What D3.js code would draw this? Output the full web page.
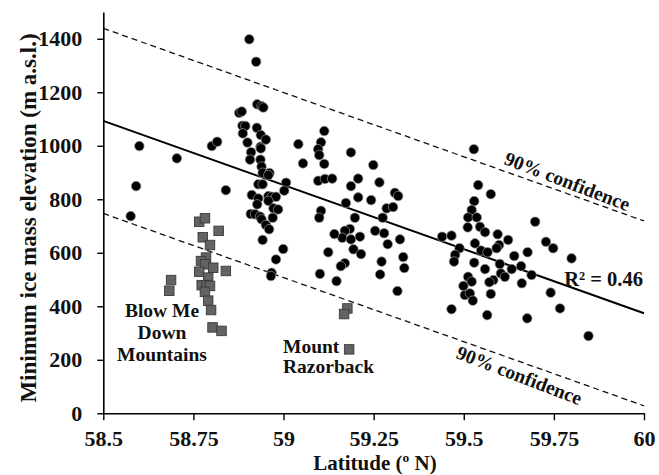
<!DOCTYPE html>
<html><head><meta charset="utf-8">
<script src="https://cdn.jsdelivr.net/npm/d3@7"></script>
<style>
body{margin:0;background:#fff}
svg{display:block}
text{font-family:"Liberation Serif","Times New Roman",serif;font-weight:bold;fill:#111}
</style>
</head><body>
<svg id="chart" width="659" height="475"></svg>
<script>
// ---- data ----
const xTicks = [58.5, 58.75, 59, 59.25, 59.5, 59.75, 60];
const yTicks = [0, 200, 400, 600, 800, 1000, 1200, 1400];
const xDomain = [58.5, 60];
const yDomain = [0, 1500];

// ice masses (circles): [latitude, minimum elevation]
const iceMasses = [
  [58.600,999],[58.704,953],[58.591,849],[58.576,737],[58.801,999],[58.816,1015],[58.840,834],
  [58.905,1398],[58.924,1314],[58.927,1155],[58.939,1148],[58.944,1143],[58.877,1123],[58.884,1128],
  [58.886,1075],[58.894,1074],[58.926,1067],[58.887,1046],[58.937,1040],[58.951,1023],[58.900,1012],
  [58.936,996],[58.937,990],[58.910,976],[58.907,948],[58.936,948],[58.939,922],[58.942,899],
  [58.961,898],[58.958,890],[58.930,856],[58.942,856],[59.007,862],[59.002,832],[58.912,816],
  [58.930,803],[58.958,812],[58.967,809],[58.979,809],[58.958,794],[58.927,781],[58.972,766],
  [58.985,762],[58.909,745],[58.921,744],[58.935,735],[58.939,725],[58.970,731],[58.951,704],
  [58.960,688],[58.942,648],[58.999,614],[58.979,575],[58.967,525],[58.965,513],[59.041,1006],[59.054,934],
  [59.113,1055],[59.104,1013],[59.096,987],[59.099,965],[59.113,932],[59.187,975],[59.249,928],
  [59.096,869],[59.115,876],[59.135,877],[59.207,877],[59.187,849],[59.266,863],[59.309,824],
  [59.318,812],[59.207,807],[59.243,797],[59.173,786],[59.286,766],[59.304,771],[59.104,757],
  [59.099,731],[59.198,731],[59.275,731],[59.184,689],[59.170,682],[59.163,656],[59.187,650],
  [59.212,660],[59.141,670],[59.254,682],[59.279,673],[59.323,650],[59.289,632],[59.194,613],
  [59.215,595],[59.124,602],[59.332,584],[59.335,543],[59.272,567],[59.170,561],[59.159,550],
  [59.268,519],[59.101,521],[59.147,494],[59.316,457],
  [59.528,987],[59.540,853],[59.575,819],[59.529,793],[59.522,760],[59.512,732],[59.536,732],
  [59.511,695],[59.545,697],[59.698,716],[59.440,660],[59.466,664],[59.559,677],[59.594,669],
  [59.623,648],[59.728,641],[59.748,617],[59.799,579],[59.531,635],[59.598,629],[59.591,617],
  [59.488,617],[59.476,592],[59.473,567],[59.548,608],[59.566,602],[59.677,602],[59.640,588],
  [59.529,563],[59.600,558],[59.559,539],[59.659,550],[59.633,539],[59.688,517],[59.603,523],
  [59.614,510],[59.512,510],[59.522,492],[59.499,476],[59.582,498],[59.571,490],[59.661,486],
  [59.503,442],[59.517,448],[59.525,421],[59.575,446],[59.466,389],[59.565,367],[59.676,355],
  [59.767,392],[59.741,451],[59.846,289]
];

// Blow Me Down Mountains and Mount Razorback (squares)
const blowMeDown = [
  [58.766,716],[58.782,729],[58.820,682],[58.776,658],[58.796,629],[58.785,582],[58.771,569],
  [58.782,557],[58.805,544],[58.840,532],[58.766,529],[58.791,507],[58.688,498],[58.683,458],
  [58.773,479],[58.787,479],[58.796,476],[58.782,454],[58.791,421],[58.799,386],[58.803,321],[58.828,308]
];
const mountRazorback = [[59.177,392],[59.168,371],[59.182,239]];

// regression line and 90% confidence bounds: [lat, elevation] end points
const regressionLine = [[58.5,1093],[60,374]];
const upperConfidence = [[58.5,1439],[60,719]];
const lowerConfidence = [[58.5,747],[60,28]];

// ---- chart ----
const svg = d3.select("#chart");
const x = d3.scaleLinear().domain(xDomain).range([103.3, 644]);
const y = d3.scaleLinear().domain(yDomain).range([413.3, 12]);
const font = '"Liberation Serif","Times New Roman",serif';

const line = d3.line().x(d => x(d[0])).y(d => y(d[1]));
svg.append("path").datum(upperConfidence).attr("d", line)
  .attr("fill","none").attr("stroke","#111").attr("stroke-width",1.3).attr("stroke-dasharray","6,4");
svg.append("path").datum(lowerConfidence).attr("d", line)
  .attr("fill","none").attr("stroke","#111").attr("stroke-width",1.3).attr("stroke-dasharray","6,4");
svg.append("path").datum(regressionLine).attr("d", line)
  .attr("fill","none").attr("stroke","#000").attr("stroke-width",2);

// points
svg.append("g").selectAll("circle").data(iceMasses).join("circle")
  .attr("cx", d => x(d[0])).attr("cy", d => y(d[1])).attr("r", 4.8)
  .attr("fill","#000").attr("stroke","#9a9a9a").attr("stroke-width",0.7);

const sq = 9.5;
svg.append("g").selectAll("rect").data(blowMeDown.concat(mountRazorback)).join("rect")
  .attr("x", d => x(d[0]) - sq/2).attr("y", d => y(d[1]) - sq/2)
  .attr("width", sq).attr("height", sq)
  .attr("fill","#636363").attr("stroke","#3a3a3a").attr("stroke-width",0.9);

// axes
const yAxis = svg.append("g").attr("transform", `translate(${x(58.5)},0)`)
  .call(d3.axisLeft(y).tickValues(yTicks).tickSize(6).tickSizeOuter(0).tickPadding(15).tickFormat(d3.format("d")));
const xAxis = svg.append("g").attr("transform", `translate(0,${y(0)})`)
  .call(d3.axisBottom(x).tickValues(xTicks).tickSize(7).tickSizeOuter(0).tickPadding(10).tickFormat(d => String(d)));
[yAxis, xAxis].forEach(g => {
  g.attr("font-family", font).attr("font-size", 22).attr("font-weight","bold");
  g.select(".domain").attr("stroke","#000").attr("stroke-width",1.6);
  g.selectAll(".tick line").attr("stroke","#000").attr("stroke-width",1.4);
  g.selectAll(".tick text").attr("fill","#111");
});

// axis titles
const xt = svg.append("text").attr("x", 375).attr("y", 470).attr("text-anchor","middle").attr("font-size",21);
xt.append("tspan").text("Latitude (");
xt.append("tspan").attr("font-size",13.5).attr("dy",-8).text("o");
xt.append("tspan").attr("dy",8).text(" N)");

svg.append("text").attr("transform","translate(36,218) rotate(-90)")
  .attr("text-anchor","middle").attr("font-size",23)
  .text("Minimum ice mass elevation (m a.s.l.)");

// annotations
svg.append("text").attr("x", 643).attr("y", 286).attr("text-anchor","end").attr("font-size",20.5).text("R² = 0.46");

svg.append("text").attr("transform","translate(567,182) rotate(21)")
  .attr("text-anchor","middle").attr("dy","0.3em").attr("font-size",19.5).text("90% confidence");
svg.append("text").attr("transform","translate(519,376) rotate(21)")
  .attr("text-anchor","middle").attr("dy","0.3em").attr("font-size",19.5).text("90% confidence");

const bmd = svg.append("text").attr("text-anchor","middle").attr("font-size",19.5);
[["Blow Me",317],["Down",339],["Mountains",361]].forEach(([t,yy]) =>
  bmd.append("tspan").attr("x",162).attr("y",yy).text(t));
const mr = svg.append("text").attr("font-size",19.5);
[["Mount",353],["Razorback",373]].forEach(([t,yy]) =>
  mr.append("tspan").attr("x",283).attr("y",yy).text(t));
</script>
</body></html>
